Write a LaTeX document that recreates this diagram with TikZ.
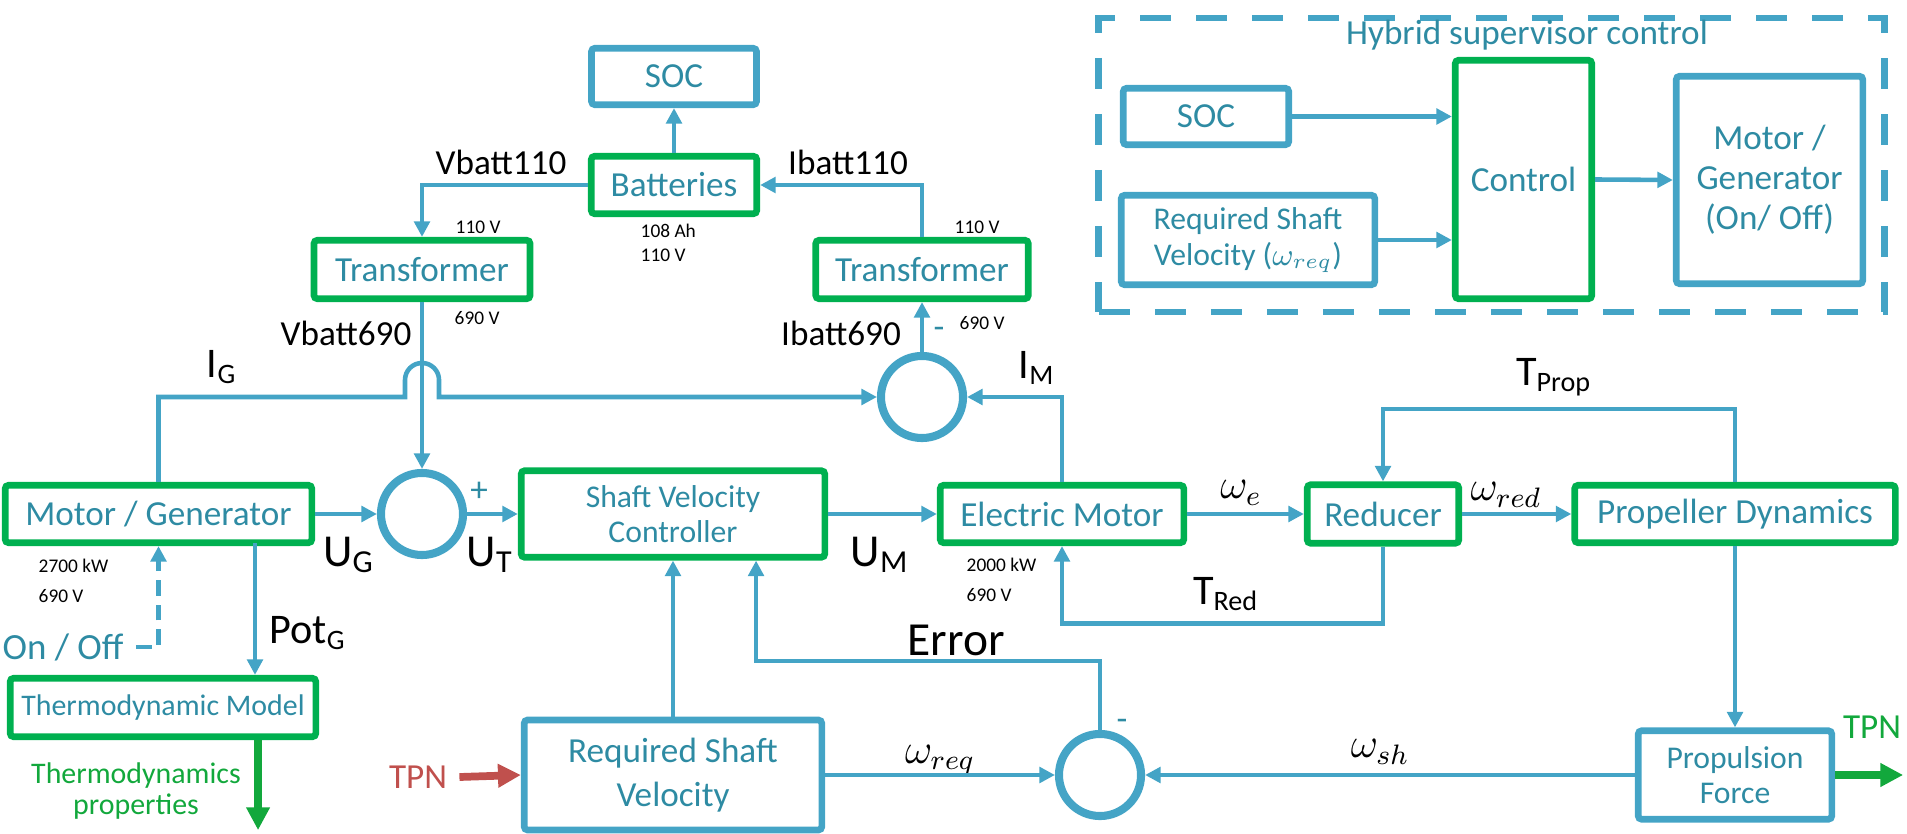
\documentclass[tikz,border=0pt]{standalone}
\usepackage{fontspec}
\setmainfont{Carlito}
\usepackage{tikz}
\usetikzlibrary{arrows.meta,positioning,calc}
\definecolor{lblue}{HTML}{44A4C6}
\definecolor{tblue}{HTML}{2E8BA3}
\definecolor{bgreen}{HTML}{00B050}
\definecolor{tgreen}{HTML}{12A83C}
\definecolor{tred}{HTML}{C0504D}
\newcommand{\fsz}[2]{\fontsize{#1}{#2}\selectfont}

\begin{document}
\begin{tikzpicture}[x=0.01cm,y=-0.01cm,font=\fsz{10}{12},
 gbox/.style={draw=bgreen,line width=1.9pt,rounded corners=1pt,text=tblue,align=center,inner sep=0pt},
 bbox/.style={gbox,draw=lblue},
 sum/.style={circle,draw=lblue,line width=2.3pt,minimum size=0.82cm,inner sep=0pt},
 line/.style={draw=lblue,line width=1.3pt,-{Triangle[length=4.4pt,width=4.4pt]}},
 garrow/.style={draw=tgreen,line width=2.2pt,-{Triangle[length=6.5pt,width=6.4pt]}},
 rarrow/.style={draw=tred,line width=2.2pt,-{Triangle[length=6.5pt,width=6.4pt]}},
 lbl/.style={font=\fsz{12}{14}},
 ulbl/.style={font=\fsz{13}{15}},
 small/.style={font=\fsz{5.5}{6.6},anchor=west,inner sep=0pt},
 dashbox/.style={draw=lblue,line width=1.9pt,dash pattern=on 0.31cm off 0.25cm,minimum width=7.85cm,minimum height=2.94cm}]
\useasboundingbox (0,0) rectangle (1907,834);
\node[bbox,minimum width=1.65cm,minimum height=0.565cm] (soc) at (674,76.5) {SOC};
\node[gbox,minimum width=1.655cm,minimum height=0.575cm] (bat) at (674,185) {Batteries};
\node[gbox,minimum width=2.16cm,minimum height=0.585cm] (tr1) at (422,269.5) {Transformer};
\node[gbox,minimum width=2.125cm,minimum height=0.585cm] (tr2) at (922,269.5) {Transformer};
\node[sum] (sumT) at (922,397) {};
\node[gbox,minimum width=3.065cm,minimum height=0.575cm] (mg) at (158.5,514) {Motor / Generator};
\node[sum] (sumU) at (422,514) {};
\node[gbox,minimum width=3.035cm,minimum height=0.865cm,font=\fsz{9}{10}] (svc) at (673,514) {Shaft Velocity\\Controller};
\node[gbox,minimum width=2.435cm,minimum height=0.575cm] (em) at (1062,514) {Electric Motor};
\node[gbox,minimum width=1.515cm,minimum height=0.585cm] (red) at (1383,514) {Reducer};
\node[gbox,minimum width=3.205cm,minimum height=0.575cm] (pd) at (1735,514) {Propeller Dynamics};
\node[gbox,minimum width=3.055cm,minimum height=0.585cm,font=\fsz{8.5}{10}] (thermo) at (163,707.5) {Thermodynamic Model};
\node[bbox,minimum width=2.975cm,minimum height=1.1cm,font=\fsz{10}{12.3}] (req) at (673,775) {Required Shaft\\Velocity};
\node[sum] (sumB) at (1100,775) {};
\node[bbox,minimum width=1.935cm,minimum height=0.885cm,font=\fsz{9}{10}] (pf) at (1735,775) {Propulsion\\Force};
\node[dashbox] (hsc) at (1491.5,165) {};
\node[text=tblue] (htitle) at (1527,35) {Hybrid supervisor control};
\node[bbox,minimum width=1.655cm,minimum height=0.565cm] (hsoc) at (1206,116.5) {SOC};
\node[bbox,minimum width=2.535cm,minimum height=0.895cm,font=\fsz{9}{10.3}] (hreq) at (1248,240) {Required Shaft\\Velocity ($\omega_{req}$)};
\node[gbox,minimum width=1.365cm,minimum height=2.385cm] (ctrl) at (1523.5,179.5) {Control};
\node[bbox,minimum width=1.865cm,minimum height=2.075cm,font=\fsz{10}{11.4}] (hmg) at (1769.5,180) {Motor /\\Generator\\(On/ Off)};
\node (vb110) at (501,162) {Vbatt110};
\node (vb690) at (346,333) {Vbatt690};
\node (ib110) at (848,162) {Ibatt110};
\node (ib690) at (841,333) {Ibatt690};
\node[lbl] (ig) at (222,367) {I\textsubscript{G}};
\node[lbl] (im) at (1037,368) {I\textsubscript{M}};
\node[lbl] (tprop) at (1554,377) {T\textsubscript{Prop}};
\node[ulbl] (ug) at (349,555) {U\textsubscript{G}};
\node[ulbl] (ut) at (490,555) {U\textsubscript{T}};
\node[ulbl] (um) at (880,555) {U\textsubscript{M}};
\node[lbl] (we) at (1241,493) {$\omega_e$};
\node[lbl] (wred) at (1506,495) {$\omega_{red}$};
\node[lbl] (tred) at (1226,594) {T\textsubscript{Red}};
\node[lbl] (potg) at (308,633) {Pot\textsubscript{G}};
\node[font=\fsz{13.5}{15}] (err) at (956,640) {Error};
\node[lbl] (wreq) at (940,760) {$\omega_{req}$};
\node[lbl] (wsh) at (1380,752) {$\omega_{sh}$};
\node[text=tblue] (plus) at (479,492) {+};
\node[text=tblue] (mn1) at (939,333) {-};
\node[text=tblue] (mn2) at (1122,725) {-};
\node[small] (tr1a) at (455,227) {110 V};
\node[small] (tr1b) at (454,318) {690 V};
\node[small] (bat1) at (640,231) {108 Ah};
\node[small] (bat2) at (640,255) {110 V};
\node[small] (tr2a) at (954,227) {110 V};
\node[small] (tr2b) at (959,323) {690 V};
\node[small] (mg1) at (38,566) {2700 kW};
\node[small] (mg2) at (38,596) {690 V};
\node[small] (em1) at (966,565) {2000 kW};
\node[small] (em2) at (966,595) {690 V};
\node[text=tblue,font=\fsz{10.5}{12}] (onoff) at (63,647) {On / Off};
\node[text=tgreen,font=\fsz{8.5}{9},align=center] (thp) at (136,791) {Thermodynamics\\properties};
\node[text=tred] (tpnin) at (418,777) {TPN};
\node[text=tgreen] (tpnout) at (1872,727) {TPN};
\coordinate (potc) at (255,543);
\draw[line] (bat) -- (soc);
\draw[line] (bat.west) -| (tr1.north);
\draw[line] (tr2.north) |- (bat.east);
\draw[line] (sumT.north) -- (tr2.south);
\draw[line] (tr1.south) -- (sumU.north);
\draw[line] (mg.north) |- (405,397) -- (405,380) arc[start angle=180,end angle=0,radius=0.17cm] -- (439,397) -- (sumT.west);
\draw[line] (em.north) |- (sumT.east);
\draw[line] (mg.east) -- (sumU.west);
\draw[line] (sumU.east) -- (svc.west);
\draw[line] (svc.east) -- (em.west);
\draw[line] (em.east) -- (red.west);
\draw[line] (red.east) -- (pd.west);
\draw[line] (pd.north) -- ++(0,-73) -| (red.north);
\draw[line] (red.south) -- ++(0,77) -| (em.south);
\draw[line] (potc) -- (potc |- thermo.north);
\draw[line,dash pattern=on 4.5pt off 2.5pt] (onoff.east) -| (mg.south);
\draw[garrow] ([xshift=0.95cm]thermo.south) -- ++(0,90);
\draw[line] (req.north) -- (svc.south);
\draw[line] (sumB.north) -- ++(0,-69) -| ([xshift=0.83cm]svc.south);
\draw[line] (req.east) -- (sumB.west);
\draw[line] (pf.west) -- (sumB.east);
\draw[line] (pd.south) -- (pf.north);
\draw[garrow] (pf.east) -- ++(68,0);
\draw[rarrow] (tpnin.east) -- (req.west);
\draw[line] (hsoc.east) -- (hsoc.east -| ctrl.west);
\draw[line] (hreq.east) -- (hreq.east -| ctrl.west);
\draw[line] (ctrl.east) -- (hmg.west);
\end{tikzpicture}
\end{document}
